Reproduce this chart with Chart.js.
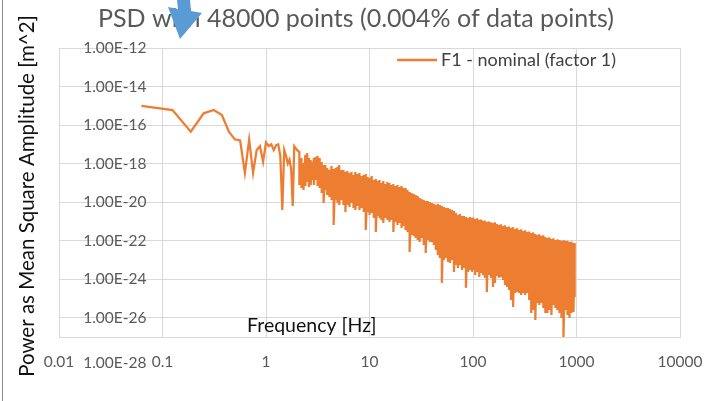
<!DOCTYPE html>
<html lang="en">
<head>
<meta charset="UTF-8">
<title>PSD</title>
<script src="https://cdn.jsdelivr.net/npm/chart.js"></script>
<style>
    html, body { margin: 0; padding: 0; background: #fff; }
    #wrap { width: 723px; height: 401px; }
</style>
</head>
<body>
<div id="wrap"><canvas id="psdChart" width="723" height="401"></canvas></div>
<script>
// values; power given as log10 of m^2
// first points, one per frequency bin (df = 0.0625 Hz)
const lowFreq = [0.0625, 0.125, 0.1875, 0.25, 0.3125, 0.375, 0.4375, 0.5, 0.5625, 0.625,
    0.6875, 0.75, 0.8125, 0.875, 0.9375, 1.0, 1.0625, 1.125, 1.1875, 1.25,
    1.3125, 1.375, 1.4375, 1.5, 1.5625, 1.625, 1.6875, 1.75, 1.8125, 1.875, 1.9375, 2.0];
const lowExp = [-15.0, -15.22, -16.34, -15.39, -15.22, -15.48, -16.34, -16.74, -16.8, -18.49,
    -16.75, -18.49, -17.3, -17.1, -17.9, -16.9, -17.1, -17.0, -17.3, -17.05,
    -17.0, -17.6, -20.4, -17.3, -17.6, -18.0, -17.8, -18.3, -20.2, -17.1, -17.2, -17.3];

// above 2 Hz the bins are too dense to tell apart: peak and dip per column
const bandFreq = [2.1, 2.2, 2.3, 2.4, 2.5, 2.6, 2.7, 2.8, 2.9, 3.0, 3.15, 3.3, 3.45, 3.6, 3.75, 3.9, 4.1, 4.3,
    4.5, 4.7, 4.9, 5.1, 5.35, 5.6, 5.85, 6.1, 6.4, 6.7, 7.0, 7.3, 7.65, 8.0, 8.4, 8.8, 9.2, 9.6,
    10, 10.5, 11, 11.5, 12, 12.5, 13, 13.6, 14.2, 14.9, 15.6, 16.3, 17, 17.8, 18.6, 19.5, 20.4, 21.3,
    22.3, 23.3, 24.4, 25.5, 26.7, 27.9, 29.2, 30.5, 31.9, 33.4, 34.9, 36.5, 38.2, 40, 41.8, 43.7,
    45.7, 47.8, 50, 52.3, 54.7, 57.2, 59.8, 62.5, 65.4, 68.4, 71.5, 74.8, 78.2, 81.8, 85.5, 89.4, 93.5, 97.8,
    100, 105, 110, 115, 120, 125, 130, 136, 142, 149, 156, 163, 170, 178, 186, 195, 204, 213,
    223, 233, 244, 255, 267, 279, 292, 305, 319, 334, 349, 365, 382, 400, 418, 437, 457, 478,
    500, 523, 547, 572, 598, 625, 654, 684, 715, 748, 782, 818, 855, 894, 935, 960];
const bandTopExp = [-17.40, -17.71, -17.97, -17.55, -17.45, -17.71, -17.81, -17.92, -17.71, -17.66, -17.60, -17.71,
    -17.92, -18.07, -18.07, -18.23, -18.33, -18.12, -18.28, -18.23, -18.18, -18.07, -18.33, -18.33,
    -18.43, -18.38, -18.49, -18.43, -18.59, -18.43, -18.54, -18.49, -18.64, -18.59, -18.54, -18.69,
    -18.75, -18.64, -18.85, -18.80, -18.90, -18.85, -19.01, -18.90, -19.06, -18.95, -19.01, -19.11,
    -19.06, -19.16, -19.11, -19.21, -19.16, -19.26, -19.26, -19.37, -19.47, -19.52, -19.58, -19.63,
    -19.68, -19.78, -19.84, -19.89, -19.94, -19.94, -19.99, -20.04, -20.09, -20.15, -20.09, -20.15,
    -20.20, -20.25, -20.30, -20.30, -20.35, -20.41, -20.46, -20.56, -20.67, -20.61, -20.72, -20.72,
    -20.77, -20.82, -20.77, -20.82,
    -20.80, -20.87, -20.84, -20.93, -20.90, -20.98, -20.95, -21.03, -21.00, -21.05, -21.08, -21.04,
    -21.13, -21.19, -21.15, -21.24, -21.20, -21.29, -21.27, -21.34, -21.31, -21.39, -21.36, -21.44,
    -21.41, -21.50, -21.46, -21.55, -21.52, -21.60, -21.57, -21.65, -21.70, -21.67, -21.75, -21.72,
    -21.81, -21.86, -21.83, -21.91, -21.88, -21.96, -21.93, -21.96, -22.01, -21.98, -22.01, -22.01,
    -22.07, -22.04, -22.12, -22.12];
const bandBotExp = [-19.11, -19.26, -19.37, -19.16, -18.95, -19.21, -19.11, -18.85, -19.11, -18.85, -19.16, -19.26,
    -19.52, -20.04, -19.37, -19.63, -19.73, -19.89, -21.19, -19.89, -20.04, -20.15, -19.89, -20.15,
    -20.51, -20.15, -20.25, -20.04, -20.30, -20.41, -20.20, -20.41, -20.30, -20.51, -21.44, -20.51,
    -20.67, -20.56, -20.82, -21.55, -20.72, -20.82, -20.93, -21.08, -20.82, -20.93, -21.03, -20.93,
    -21.55, -21.03, -21.19, -21.08, -21.34, -21.24, -21.44, -21.55, -22.59, -21.70, -21.75, -21.86,
    -21.96, -22.07, -21.86, -22.22, -22.64, -21.96, -22.07, -22.07, -22.22, -22.48, -22.74, -22.90,
    -24.19, -23.00, -22.90, -23.10, -23.16, -23.00, -23.62, -23.26, -23.42, -23.26, -23.52, -23.42,
    -24.45, -23.62, -23.52, -23.62,
    -23.52, -23.78, -23.62, -23.88, -23.67, -23.78, -23.93, -24.66, -23.78, -23.93, -24.40, -24.19,
    -23.83, -23.93, -23.88, -24.04, -24.30, -24.40, -24.56, -25.08, -25.44, -24.71, -24.66, -24.71,
    -24.82, -24.71, -24.82, -24.71, -25.08, -25.75, -25.60, -26.12, -25.23, -25.34, -25.23, -25.49,
    -25.75, -25.75, -25.60, -25.86, -25.34, -25.49, -25.60, -25.75, -26.01, -27.10, -25.60, -25.86,
    -26.01, -25.75, -25.70, -24.92];

const xTicks = [0.01, 0.1, 1, 10, 100, 1000, 10000];
const xTickLabels = ['0.01', '0.1', '1', '10', '100', '1000', '10000'];
const yGrid = [1e-27, 1e-26, 1e-24, 1e-22, 1e-20, 1e-18, 1e-16, 1e-14, 1e-12];
const yTicks = [1e-12, 1e-14, 1e-16, 1e-18, 1e-20, 1e-22, 1e-24, 1e-26, 1e-28];
const yTickLabels = ['1.00E-12', '1.00E-14', '1.00E-16', '1.00E-18', '1.00E-20',
    '1.00E-22', '1.00E-24', '1.00E-26', '1.00E-28'];

const chartTitle = 'PSD with 48000 points (0.004% of data points)';
const xTitle = 'Frequency [Hz]';
const yTitle = 'Power as Mean Square Amplitude [m^2]';
const seriesName = 'F1 - nominal (factor 1)';
const FONT = 'Lato, "Open Sans", sans-serif';
const ORANGE = '#ED7D31';

const points = [];
lowFreq.forEach((f, i) => points.push({ x: f, y: Math.pow(10, lowExp[i]) }));
bandFreq.forEach((f, i) => {
    points.push({ x: f, y: Math.pow(10, bandTopExp[i]) });
    points.push({ x: f, y: Math.pow(10, bandBotExp[i]) });
});

// texts and shapes that Excel placed in odd spots
const overlay = {
    id: 'overlay',
    afterDraw(chart) {
        const { ctx, chartArea, scales } = chart;
        const xs = scales.x, ys = scales.y;
        ctx.save();
        ctx.textBaseline = 'middle';

        // title
        ctx.font = '25px ' + FONT;
        ctx.fillStyle = '#595959';
        ctx.textAlign = 'center';
        ctx.fillText(chartTitle, 356, 19);

        // y tick labels sit left of the 0.1 gridline
        ctx.font = '15.5px ' + FONT;
        ctx.textAlign = 'right';
        const lx = xs.getPixelForValue(0.1) - 16;
        yTicks.forEach((v, i) => {
            let py = ys.getPixelForValue(v);
            if (v < ys.min) py = chartArea.bottom + 26;
            ctx.fillText(yTickLabels[i], lx, py);
        });

        // y axis title
        ctx.save();
        ctx.translate(27, 196);
        ctx.rotate(-Math.PI / 2);
        ctx.font = '20.5px ' + FONT;
        ctx.fillStyle = '#111';
        ctx.textAlign = 'center';
        ctx.fillText(yTitle, 0, 0);
        ctx.restore();

        // x axis title inside plot
        ctx.font = '19.5px ' + FONT;
        ctx.fillStyle = '#111';
        ctx.textAlign = 'left';
        ctx.fillText(xTitle, 247, chartArea.bottom - 11);

        // legend
        ctx.strokeStyle = ORANGE;
        ctx.lineWidth = 2.5;
        ctx.beginPath();
        ctx.moveTo(397, 60);
        ctx.lineTo(437, 60);
        ctx.stroke();
        ctx.font = '18px ' + FONT;
        ctx.fillStyle = '#404040';
        ctx.fillText(seriesName, 441, 60);

        // chart frame, left edge
        ctx.strokeStyle = '#8c8c8c';
        ctx.lineWidth = 1;
        ctx.beginPath();
        ctx.moveTo(2.5, 0);
        ctx.lineTo(2.5, 401);
        ctx.stroke();

        // blue arrow pasted over the title
        ctx.fillStyle = '#5B9BD5';
        ctx.beginPath();
        ctx.moveTo(177, 0);
        ctx.lineTo(190, 0);
        ctx.lineTo(191, 11);
        ctx.lineTo(202, 13);
        ctx.lineTo(180, 39);
        ctx.lineTo(168, 7);
        ctx.lineTo(178, 9);
        ctx.closePath();
        ctx.fill();
        ctx.restore();
    }
};

new Chart(document.getElementById('psdChart'), {
    type: 'line',
    data: {
        datasets: [{
            label: seriesName,
            data: points,
            borderColor: ORANGE,
            backgroundColor: ORANGE,
            borderWidth: 2.25,
            pointRadius: 0,
            tension: 0,
            fill: false
        }]
    },
    options: {
        responsive: false,
        animation: false,
        devicePixelRatio: 1,
        layout: { padding: { left: 2, right: 43, top: 48, bottom: 0 } },
        plugins: {
            legend: { display: false },
            tooltip: { enabled: false },
            title: { display: false }
        },
        scales: {
            x: {
                type: 'logarithmic',
                min: 0.01,
                max: 10000,
                afterBuildTicks: s => { s.ticks = xTicks.map(v => ({ value: v })); },
                afterFit: s => { s.height = 64; },
                ticks: {
                    autoSkip: false,
                    maxRotation: 0,
                    padding: 16,
                    color: '#595959',
                    font: { family: FONT, size: 15.5 },
                    callback: (v, i) => xTickLabels[i]
                },
                grid: { color: '#d9d9d9', drawTicks: false },
                border: { color: '#d9d9d9' }
            },
            y: {
                type: 'logarithmic',
                min: 1e-27,
                max: 1e-12,
                afterBuildTicks: s => { s.ticks = yGrid.map(v => ({ value: v })); },
                afterFit: s => { s.width = 57; },
                ticks: { display: false },
                grid: { color: '#d9d9d9', drawTicks: false },
                border: { color: '#d9d9d9' }
            }
        }
    },
    plugins: [overlay]
});
</script>
</body>
</html>
